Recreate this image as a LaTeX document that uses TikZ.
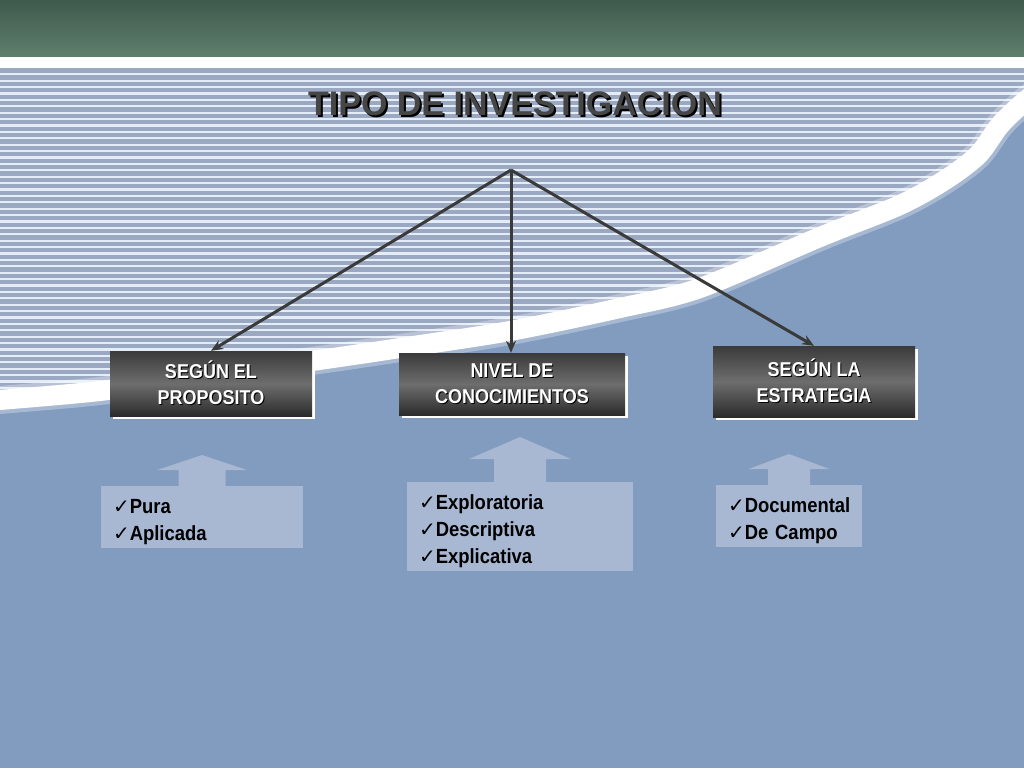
\documentclass[tikz,border=0pt]{standalone}
\usepackage{fontspec}
\setmainfont{Liberation Sans}
\newfontfamily\narrowfont[FakeStretch=0.9]{Liberation Sans}
\newfontfamily\checkfont{DejaVu Sans}
\usetikzlibrary{arrows.meta,shadows}

\definecolor{topgreenA}{HTML}{3F5A4D}
\definecolor{topgreenB}{HTML}{5F7F6D}
\definecolor{stripebase}{HTML}{9AA8C2}
\definecolor{stripeline}{HTML}{E4EDF7}
\definecolor{lowblue}{HTML}{819CBF}
\definecolor{listfill}{HTML}{A8B8D2}
\definecolor{arrowgray}{HTML}{3A3A3A}
\definecolor{titlegray}{HTML}{464646}

\newcommand{\shadowed}[2]{\makebox[0pt][l]{\kern#1\raisebox{-#1}{\color{black}#2}}#2}
\newcommand{\chk}{{\checkfont\mdseries\fontsize{20}{27}\selectfont ✓}}

\tikzset{
  headbox/.style={top color=black!77, bottom color=black!83, middle color=black!57,
    text=white, font=\narrowfont\bfseries\fontsize{20}{26}\selectfont, align=center, inner sep=0pt,
    drop shadow={shadow xshift=3pt, shadow yshift=-3pt, fill=white, opacity=1}},
  listbox/.style={fill=listfill, anchor=north, align=left, inner xsep=12pt, inner ysep=4pt,
    font=\narrowfont\bfseries\fontsize{20.5}{27}\selectfont},
  link/.style={draw=arrowgray, line width=3pt, -{Stealth[length=12pt,width=10pt]}},
}

\begin{document}
\begin{tikzpicture}[x=1pt,y=-1pt]
\useasboundingbox (0,0) rectangle (1024,768);

% Background
\fill[lowblue] (0,0) rectangle (1024,768);
\shade[top color=topgreenA, bottom color=topgreenB] (0,0) rectangle (1024,57);
\fill[white] (0,57) rectangle (1024,68);

% Striped area above the curve
\begin{scope}
\clip (0,68) -- (1024,68) -- plot[smooth, tension=0.5] coordinates {(1024,102) (1000,125) (978,155) (945,180) (900,205) (820,237) (700,288) (620,308) (510,331) (400,348) (333,358) (200,377) (100,391) (0,400)} -- cycle;
\fill[stripebase] (0,68) rectangle (1024,420);
\foreach \y in {73.2,79.6,...,420} \fill[stripeline] (0,\y) rectangle (1024,\y+2.2);
\end{scope}

% White curved band
\draw[white, line width=28pt, opacity=0.3] plot[smooth, tension=0.5] coordinates {(-20,402) (0,400) (100,391) (200,377) (333,358) (400,348) (510,331) (620,308) (700,288) (820,237) (900,205) (945,180) (978,155) (1000,125) (1024,102) (1040,90)};
\draw[white, line width=20pt] plot[smooth, tension=0.5] coordinates {(-20,402) (0,400) (100,391) (200,377) (333,358) (400,348) (510,331) (620,308) (700,288) (820,237) (900,205) (945,180) (978,155) (1000,125) (1024,102) (1040,90)};

% Title
\node[font=\bfseries\fontsize{34}{36}\selectfont, text=titlegray] (title) at (515,105) {\shadowed{2pt}{TIPO DE INVESTIGACION}};
\coordinate (apex) at (511,170);

% Category boxes
\node[headbox, minimum width=202pt, minimum height=65pt] (proposito) at (211,383.5) {\shadowed{1pt}{SEGÚN EL}\\\shadowed{1pt}{PROPOSITO}};
\node[headbox, minimum width=226pt, minimum height=62pt] (nivel) at (512,384) {\shadowed{1pt}{NIVEL DE}\\\shadowed{1pt}{CONOCIMIENTOS}};
\node[headbox, minimum width=202pt, minimum height=71pt] (estrategia) at (814,381.5) {\shadowed{1pt}{SEGÚN LA}\\\shadowed{1pt}{ESTRATEGIA}};

\draw[link] (apex) -- (proposito.north);
\draw[link] (apex) -- (apex |- nivel.north);
\draw[link] (apex) -- (estrategia.north);

% Lists
\node[listbox, text width=178pt] (listaP) at (202,486) {\rule{0pt}{23pt}\chk Pura\\\chk Aplicada\rule[-4pt]{0pt}{4pt}};
\node[listbox, text width=202pt] (listaN) at (520,482) {\rule{0pt}{23pt}\chk Exploratoria\\\chk Descriptiva\\\chk Explicativa\rule[-4pt]{0pt}{4pt}};
\node[listbox, text width=122pt] (listaE) at (789,485) {\rule{0pt}{23pt}\chk Documental\\\chk De Campo\rule[-4pt]{0pt}{4pt}};

% Block arrows up
\fill[listfill] ([xshift=-23.5pt]listaP.north) -- ++(0,-16) -- ++(-21.5,0) -- ++(45,-15) -- ++(45,15) -- ++(-21.5,0) -- ++(0,16) -- cycle;
\fill[listfill] ([xshift=-26pt]listaN.north) -- ++(0,-23) -- ++(-25,0) -- ++(51,-22) -- ++(51,22) -- ++(-25,0) -- ++(0,23) -- cycle;
\fill[listfill] ([xshift=-21pt]listaE.north) -- ++(0,-16) -- ++(-19.5,0) -- ++(40.5,-15) -- ++(40.5,15) -- ++(-19.5,0) -- ++(0,16) -- cycle;

\end{tikzpicture}
\end{document}
